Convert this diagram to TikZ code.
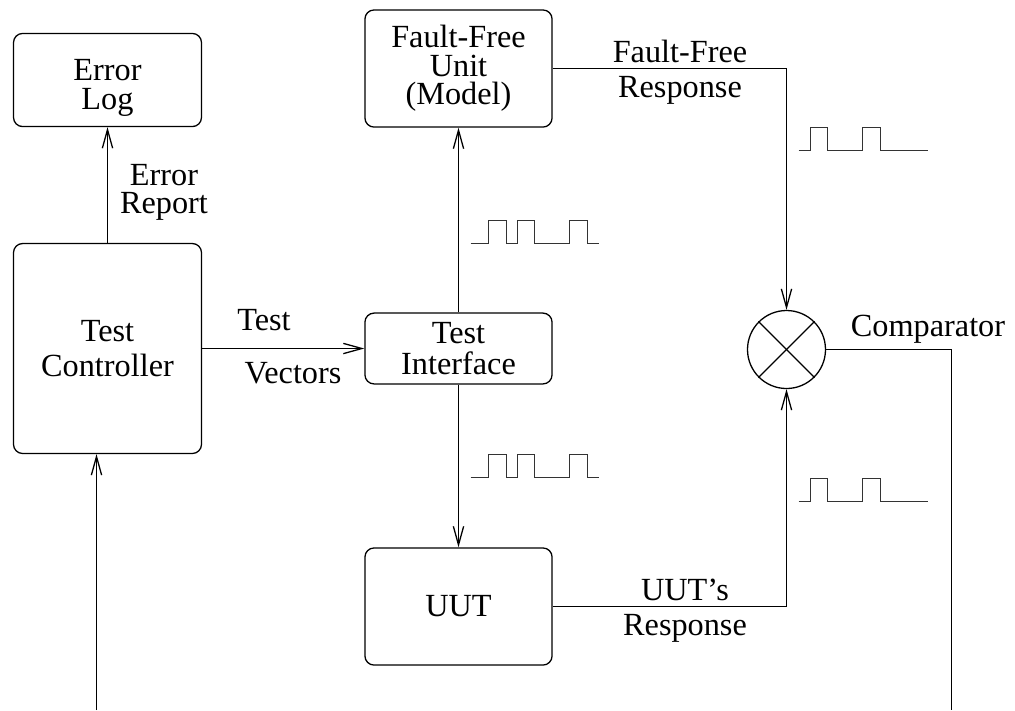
\documentclass[tikz,border=0pt]{standalone}
\usepackage{fontspec}
\setmainfont{Liberation Serif}
\usepackage{tikz}
\usetikzlibrary{arrows.meta}
\usetikzlibrary{calc,backgrounds}
\pgfdeclarelayer{edgelayer}
\pgfdeclarelayer{nodelayer}
\pgfsetlayers{background,edgelayer,nodelayer,main}
\tikzstyle{none}=[inner sep=0mm]
\tikzstyle{block}=[draw=black,line width=0.45pt,rounded corners=3.2pt,fill=white,align=center,inner sep=0pt,font=\fontsize{11.3}{10}\selectfont]
\tikzstyle{lbl}=[inner sep=0pt,anchor=base,font=\fontsize{11.3}{10}\selectfont]
\tikzstyle{cmpnode}=[draw=black,line width=0.45pt,circle,minimum size=27.3pt,inner sep=0pt,fill=white]
\tikzstyle{wire}=[line width=0.45pt]
\tikzstyle{diredge}=[wire,-{Straight Barb[length=6.5pt,width=3.6pt]}]
\tikzstyle{wave}=[line width=0.4pt,draw=black!80]

\begin{document}
\begin{tikzpicture}[x=0.35pt,y=-0.35pt]
	\useasboundingbox (0,0) rectangle (1015,710);
	\begin{pgfonlayer}{nodelayer}
		\node [style=block,minimum width=65.8pt,minimum height=32.6pt] (el) at (107.5, 80) {\rule{0pt}{13pt}Error\\Log};
		\node [style=block,minimum width=65.8pt,minimum height=73.5pt] (tc) at (107.5, 348.5) {Test\\[2.4pt]Controller};
		\node [style=block,minimum width=65.5pt,minimum height=41pt] (ffu) at (458.5, 68.5) {Fault-Free\\Unit\\(Model)};
		\node [style=block,minimum width=65.5pt,minimum height=24.8pt] (ti) at (458.5, 348.5) {Test\\[1pt]Interface};
		\node [style=block,minimum width=65.5pt,minimum height=41pt] (uut) at (458.5, 606.5) {UUT};
		\node [style=cmpnode] (cmp) at (786.5, 349.5) {};
		\coordinate (cmpend) at (951.5, 710);
		\coordinate (fbstart) at (96.5, 710);
		% labels
		\node [style=lbl] (erl1) at (164, 185) {Error};
		\node [style=lbl] (erl2) at (164, 213) {Report};
		\node [style=lbl] (tvl1) at (264, 330) {Test};
		\node [style=lbl] (tvl2) at (293, 383) {Vectors};
		\node [style=lbl] (ffl1) at (680, 62) {Fault-Free};
		\node [style=lbl] (ffl2) at (680, 97) {Response};
		\node [style=lbl] (ul1) at (685, 600) {UUT's};
		\node [style=lbl] (ul2) at (685, 635) {Response};
		\node [style=lbl] (cmpl) at (928, 336) {Comparator};
	\end{pgfonlayer}
	\begin{pgfonlayer}{edgelayer}
		\draw [style=diredge] (tc) to (el);
		\draw [style=diredge] (tc) to (ti);
		\draw [style=diredge] (ti) to (ffu);
		\draw [style=diredge] (ti) to (uut);
		\draw [style=diredge] (ffu.east) -| (cmp.north);
		\draw [style=diredge] (uut.east) -| (cmp.south);
		\draw [style=wire] (cmp.east) -| (cmpend);
		\draw [style=diredge] (fbstart) to (fbstart |- tc.south);
	\end{pgfonlayer}
	% cross in the comparator
	\draw [style=wire] (cmp.north west) -- (cmp.south east);
	\draw [style=wire] (cmp.north east) -- (cmp.south west);
	% pulse trains
	\draw [style=wave] (470.5, 243.5) -- ++(18,0) -- ++(0,-23) -- ++(18,0) -- ++(0,23) -- ++(11,0) -- ++(0,-23) -- ++(17,0) -- ++(0,23) -- ++(35,0) -- ++(0,-23) -- ++(18,0) -- ++(0,23) -- ++(11,0);
	\draw [style=wave] (470.5, 477.5) -- ++(18,0) -- ++(0,-23) -- ++(18,0) -- ++(0,23) -- ++(11,0) -- ++(0,-23) -- ++(17,0) -- ++(0,23) -- ++(35,0) -- ++(0,-23) -- ++(18,0) -- ++(0,23) -- ++(11,0);
	\draw [style=wave] (798.5, 150.5) -- ++(12,0) -- ++(0,-23) -- ++(17,0) -- ++(0,23) -- ++(35,0) -- ++(0,-23) -- ++(18,0) -- ++(0,23) -- ++(47,0);
	\draw [style=wave] (798.5, 501.5) -- ++(12,0) -- ++(0,-23) -- ++(17,0) -- ++(0,23) -- ++(35,0) -- ++(0,-23) -- ++(18,0) -- ++(0,23) -- ++(47,0);
\end{tikzpicture}
\end{document}
